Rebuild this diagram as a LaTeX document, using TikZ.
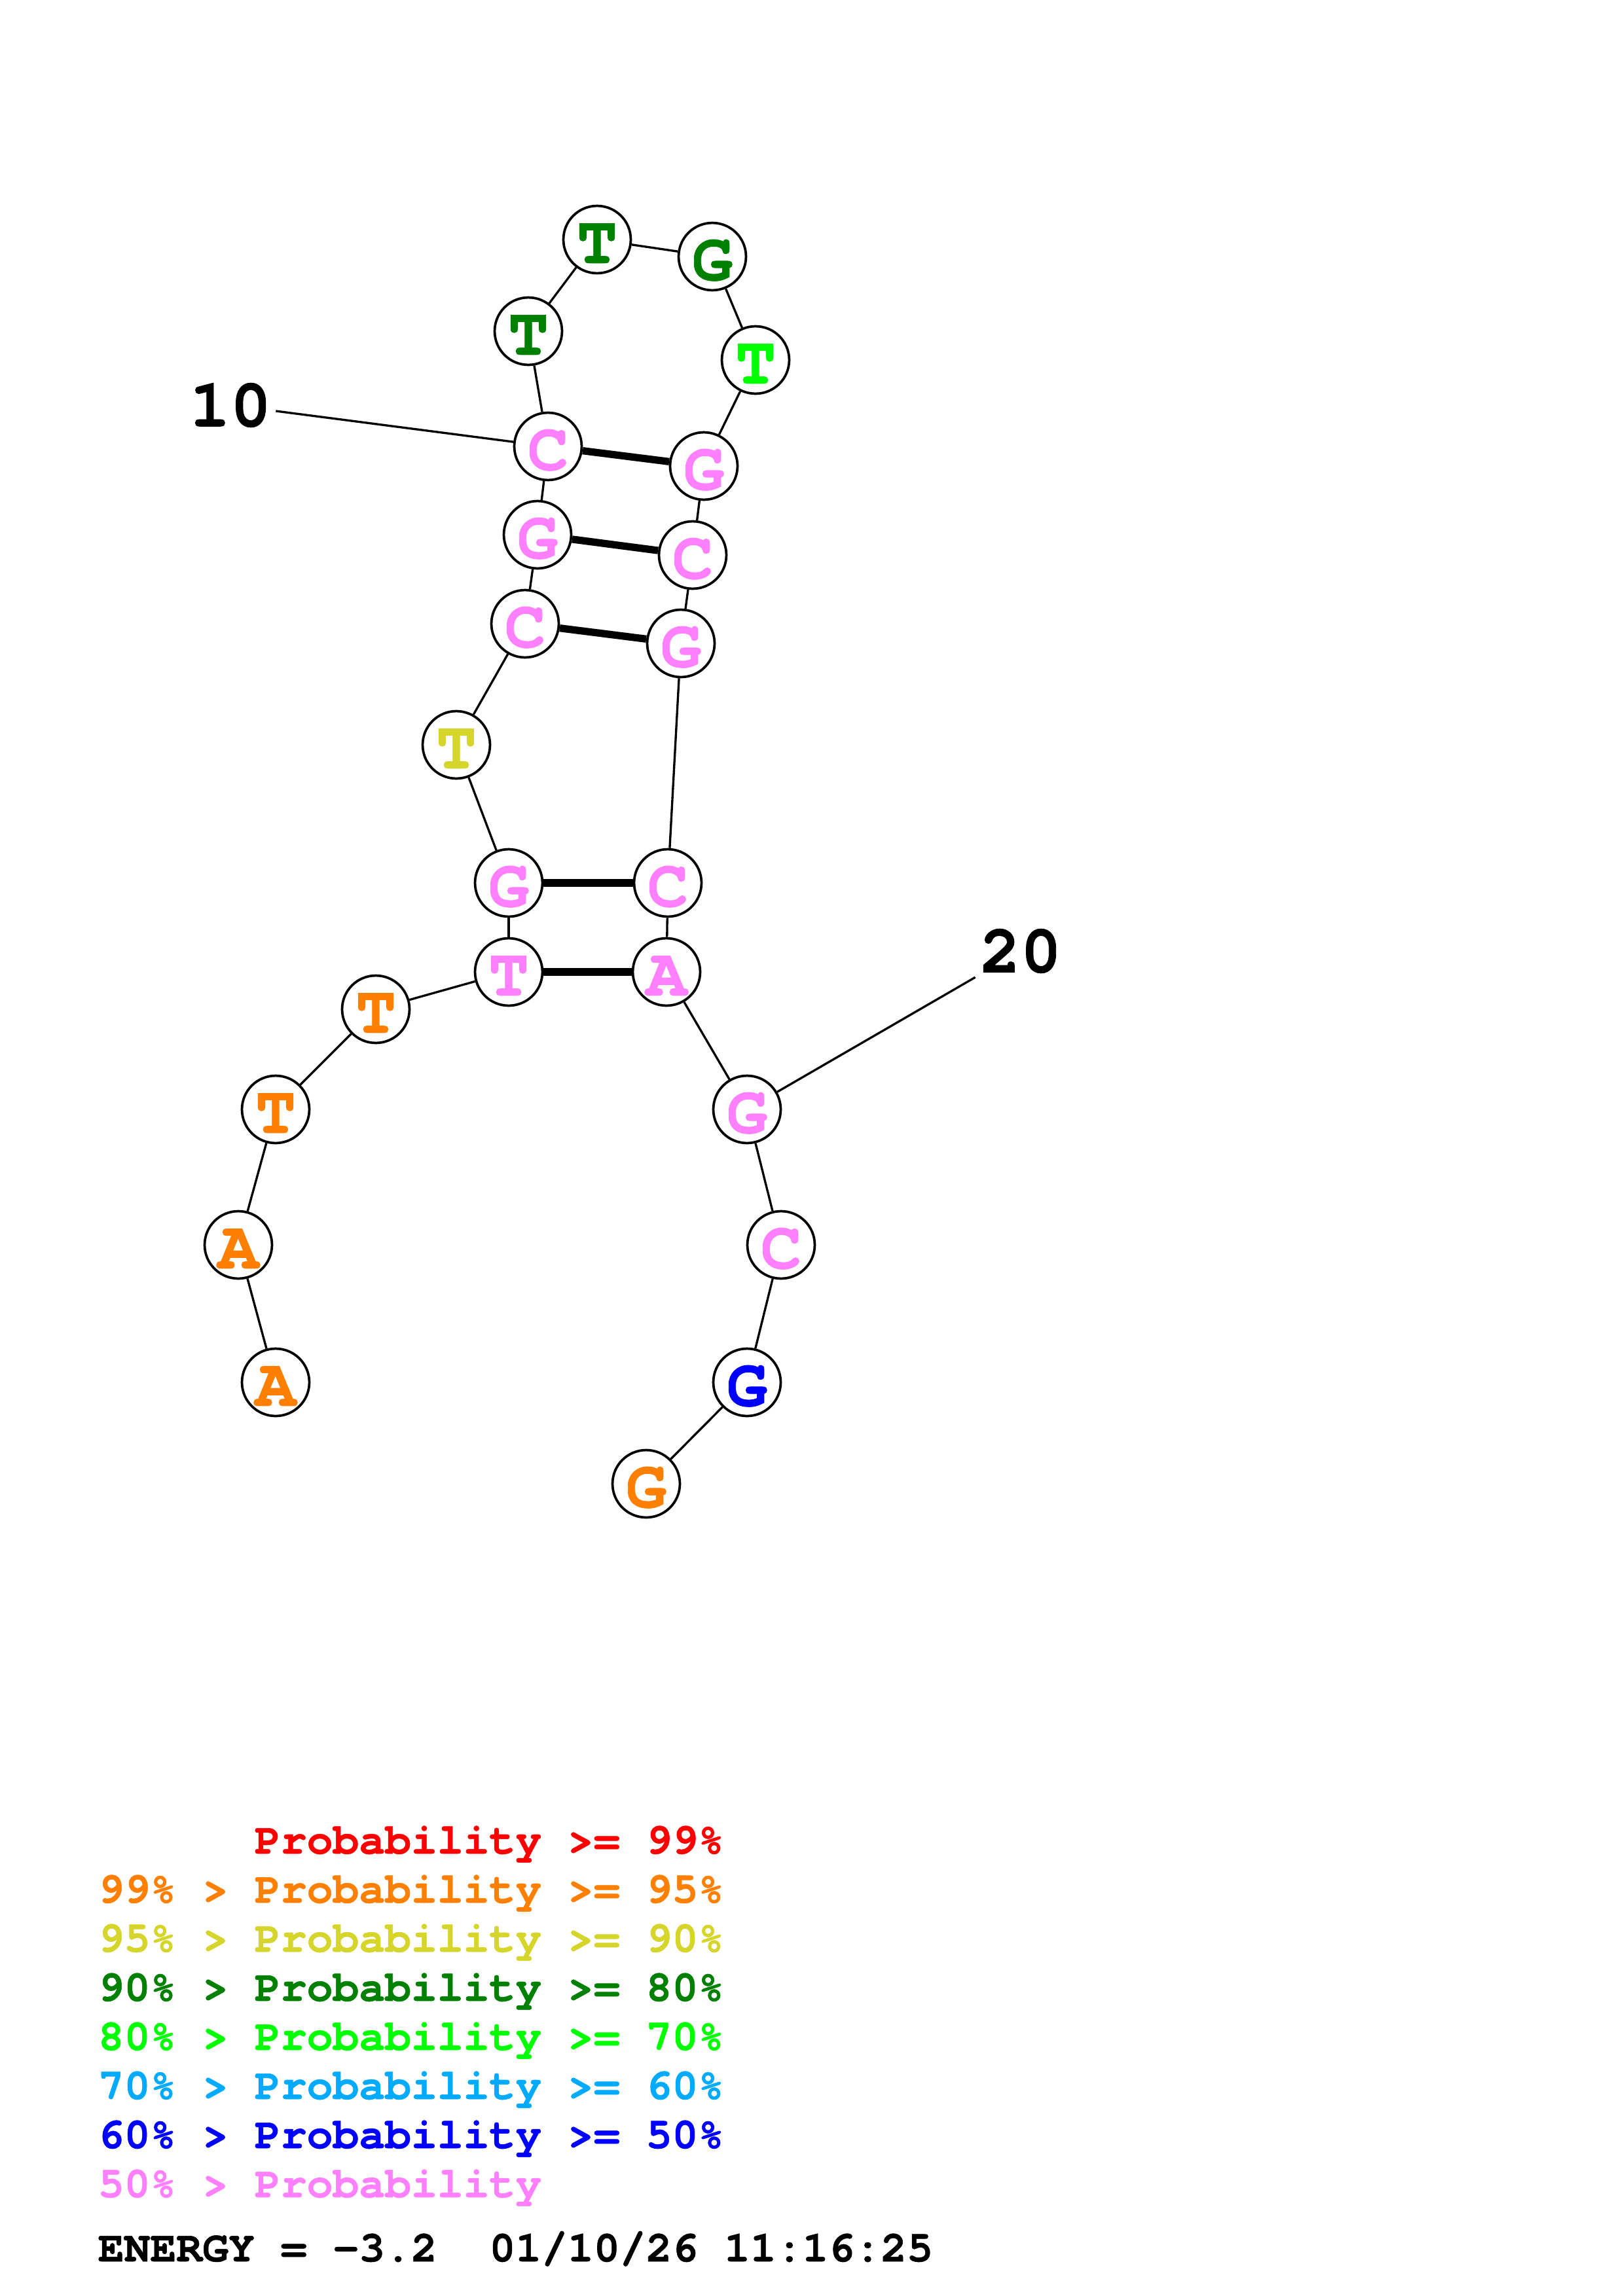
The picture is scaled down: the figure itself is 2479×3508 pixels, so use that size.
\documentclass[tikz,border=0pt]{standalone}
\usepackage[usenames,dvipsnames]{xcolor}
\usepackage{fontspec}
\usepackage{tikz}
\setmainfont{texgyrecursor}[Extension=.otf, UprightFont=*-regular, BoldFont=*-bold,
	BoldFeatures={FakeBold=0.8}]

\definecolor{probRed}{RGB}{255,0,0}
\definecolor{probOrange}{RGB}{255,128,0}
\definecolor{probYellow}{RGB}{213,213,43}
\definecolor{probDkGreen}{RGB}{0,128,0}
\definecolor{probGreen}{RGB}{0,255,0}
\definecolor{probCyan}{RGB}{0,170,255}
\definecolor{probBlue}{RGB}{0,0,255}
\definecolor{probPink}{RGB}{255,128,255}

\tikzset{
	base/.style = {circle, draw=black, line width=0.9pt, fill=white, inner sep=0pt,
		minimum size=24.8pt, text height=17.3pt, text depth=0pt,
		font=\bfseries\fontsize{25}{30}\selectfont},
	legend/.style = {anchor=base west, inner sep=0pt,
		font=\bfseries\fontsize{16}{19}\selectfont}
}

\begin{document}
\begin{tikzpicture}[x=0.2409pt, y=-0.2409pt]
	\useasboundingbox (0,0) rectangle (2479,3508);
	\begin{scope}[every node/.style = {base, text=probOrange}]
		\node (b1) at (421,2112) {A};
		\node (b2) at (364,1902) {A};
		\node (b3) at (421,1695) {T};
		\node (b4) at (574,1542) {T};
		\node (b23) at (987,2267) {G};
	\end{scope}
	\begin{scope}[every node/.style = {base, text=probPink}]
		\node (b5) at (777,1485) {T};
		\node (b6) at (777,1349) {G};
		\node (b8) at (802,953) {C};
		\node (b9) at (821,817) {G};
		\node (b10) at (837,682) {C};
		\node (b15) at (1075,712) {G};
		\node (b16) at (1058,848) {C};
		\node (b17) at (1040,983) {G};
		\node (b18) at (1020,1349) {C};
		\node (b19) at (1018,1485) {A};
		\node (b20) at (1141,1695) {G};
		\node (b21) at (1193,1902) {C};
	\end{scope}
	\begin{scope}[every node/.style = {base, text=probYellow}]
		\node (b7) at (697,1138) {T};
	\end{scope}
	\begin{scope}[every node/.style = {base, text=probDkGreen}]
		\node (b11) at (807,506) {T};
		\node (b12) at (912,366) {T};
		\node (b13) at (1088,392) {G};
	\end{scope}
	\begin{scope}[every node/.style = {base, text=probGreen}]
		\node (b14) at (1154,550) {T};
	\end{scope}
	\begin{scope}[every node/.style = {base, text=probBlue}]
		\node (b22) at (1141,2112) {G};
	\end{scope}
	\begin{scope}[every node/.style = {inner sep=1.5pt, font=\bfseries\fontsize{25}{30}\selectfont}]
		\node (l10) at (352,619) {10};
		\node (l20) at (1559,1453) {20};
	\end{scope}
	% backbone
	\begin{scope}[every edge/.style={draw=black, line width=0.8pt}]
		\path [-] (b1) edge (b2);
		\path [-] (b2) edge (b3);
		\path [-] (b3) edge (b4);
		\path [-] (b4) edge (b5);
		\path [-] (b5) edge (b6);
		\path [-] (b6) edge (b7);
		\path [-] (b7) edge (b8);
		\path [-] (b8) edge (b9);
		\path [-] (b9) edge (b10);
		\path [-] (b10) edge (b11);
		\path [-] (b11) edge (b12);
		\path [-] (b12) edge (b13);
		\path [-] (b13) edge (b14);
		\path [-] (b14) edge (b15);
		\path [-] (b15) edge (b16);
		\path [-] (b16) edge (b17);
		\path [-] (b17) edge (b18);
		\path [-] (b18) edge (b19);
		\path [-] (b19) edge (b20);
		\path [-] (b20) edge (b21);
		\path [-] (b21) edge (b22);
		\path [-] (b22) edge (b23);
		\path [-] (l10) edge (b10);
		\path [-] (l20) edge (b20);
	\end{scope}
	% pairs
	\begin{scope}[every edge/.style={draw=black, line width=2.7pt}]
		\path [-] (b5) edge (b19);
		\path [-] (b6) edge (b18);
		\path [-] (b8) edge (b17);
		\path [-] (b9) edge (b16);
		\path [-] (b10) edge (b15);
	\end{scope}
	% legend
	\begin{scope}[every node/.style = {legend}]
		\node[text=probRed] (k1) at (149,2832) {\phantom{99\% > }Probability >= 99\%};
		\node[text=probOrange] (k2) at (149,2907) {99\% > Probability >= 95\%};
		\node[text=probYellow] (k3) at (149,2982) {95\% > Probability >= 90\%};
		\node[text=probDkGreen] (k4) at (149,3057) {90\% > Probability >= 80\%};
		\node[text=probGreen] (k5) at (149,3132) {80\% > Probability >= 70\%};
		\node[text=probCyan] (k6) at (149,3207) {70\% > Probability >= 60\%};
		\node[text=probBlue] (k7) at (149,3282) {60\% > Probability >= 50\%};
		\node[text=probPink] (k8) at (149,3357) {50\% > Probability};
		\node[text=black] (energy) at (149,3455) {ENERGY = -3.2\ \ 01/10/26 11:16:25};
	\end{scope}
\end{tikzpicture}
\end{document}
